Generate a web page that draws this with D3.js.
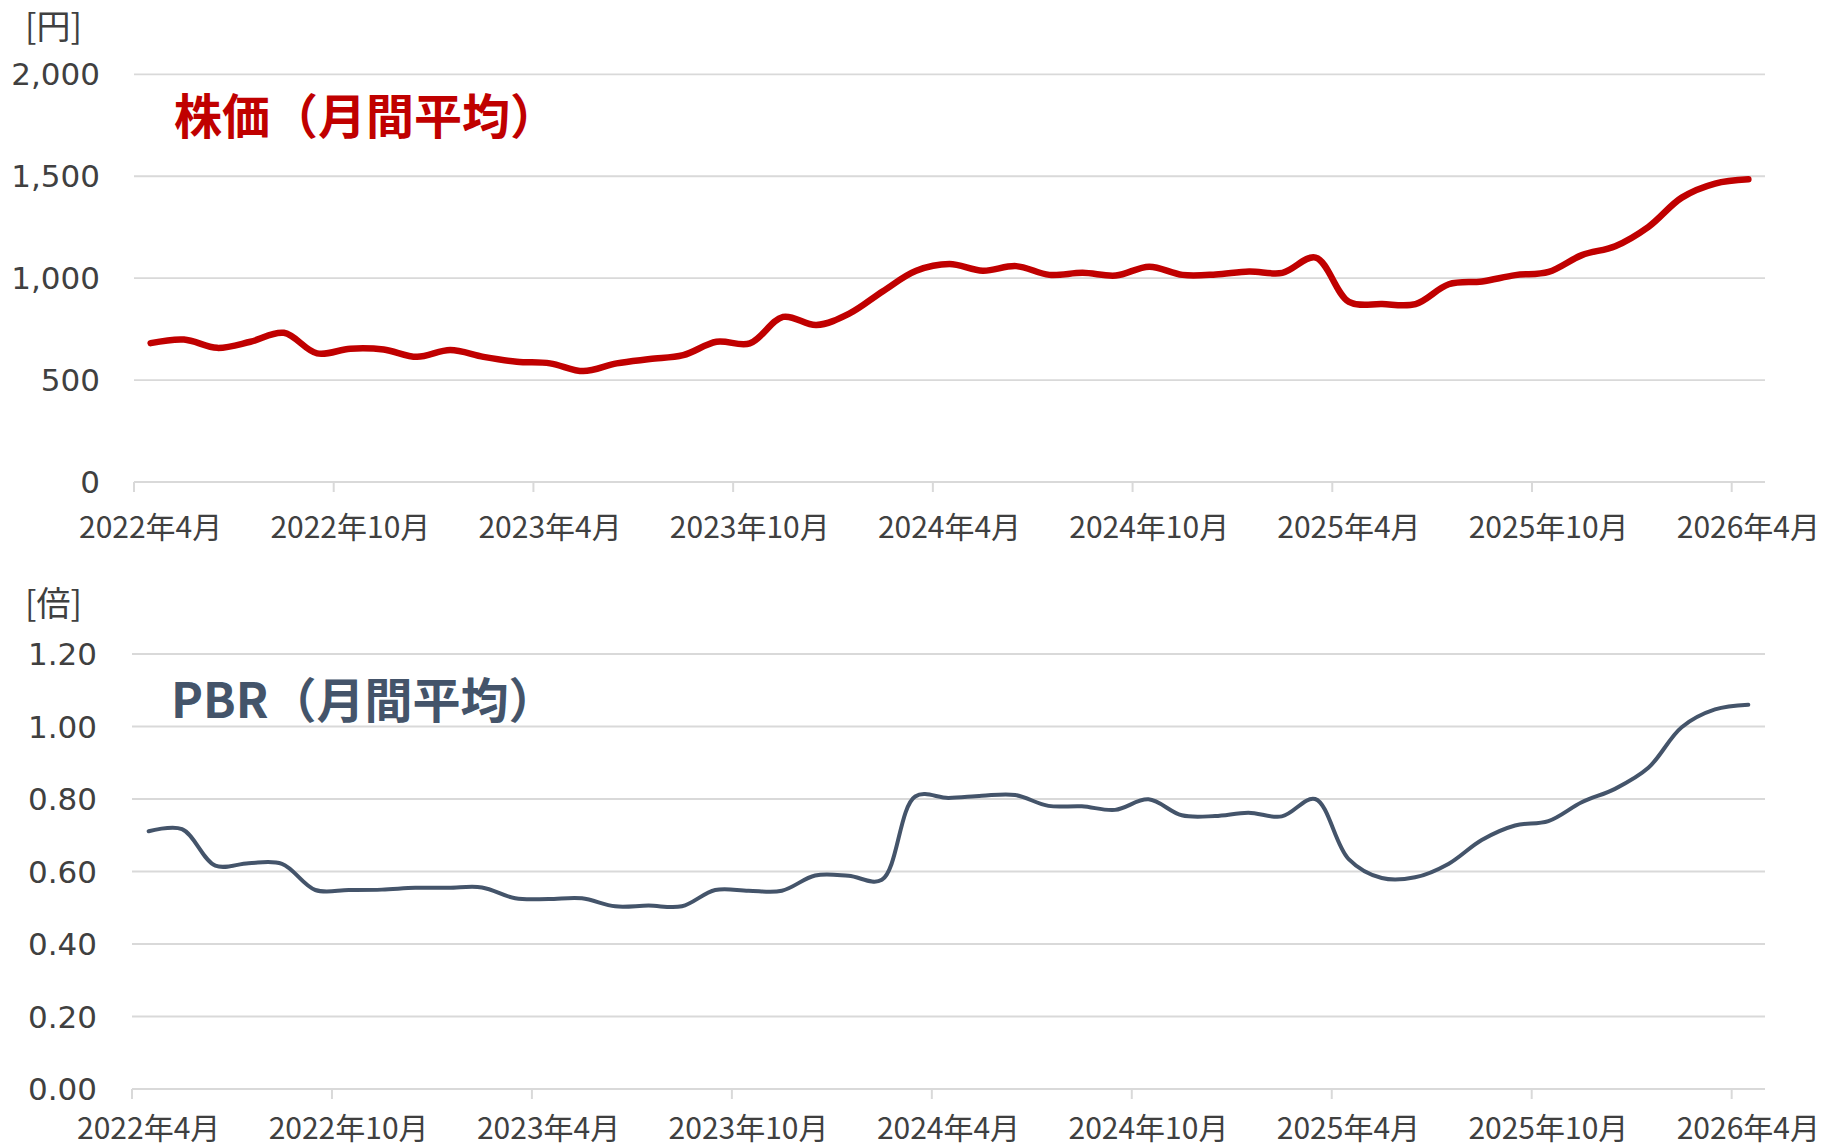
<!DOCTYPE html>
<html>
<head>
<meta charset="utf-8">
<script src="https://cdn.jsdelivr.net/npm/d3@7"></script>
<style>
  body { margin: 0; background: #fff; }
  svg { display: block; }
</style>
</head>
<body>
<div id="display"><svg width="1821" height="1148"></svg></div>
<script>
// months, Apr 2022 .. Apr 2026
var months = [
  "2022年4月","2022年5月","2022年6月","2022年7月","2022年8月","2022年9月","2022年10月","2022年11月","2022年12月",
  "2023年1月","2023年2月","2023年3月","2023年4月","2023年5月","2023年6月","2023年7月","2023年8月","2023年9月",
  "2023年10月","2023年11月","2023年12月","2024年1月","2024年2月","2024年3月","2024年4月","2024年5月","2024年6月",
  "2024年7月","2024年8月","2024年9月","2024年10月","2024年11月","2024年12月","2025年1月","2025年2月","2025年3月",
  "2025年4月","2025年5月","2025年6月","2025年7月","2025年8月","2025年9月","2025年10月","2025年11月","2025年12月",
  "2026年1月","2026年2月","2026年3月","2026年4月"
];
var tickMonths = ["2022年4月","2022年10月","2023年4月","2023年10月","2024年4月","2024年10月","2025年4月","2025年10月","2026年4月"];

// 株価（月間平均）[円]
var price = [681,699,658,688,732,631,654,650,614,647,614,590,582,544,582,603,622,688,680,810,
  770,827,936,1036,1069,1036,1059,1016,1026,1013,1056,1016,1018,1033,1026,1101,884,873,873,970,
  984,1015,1031,1113,1157,1252,1395,1464,1485];
var priceTicks = [0,500,1000,1500,2000];

// PBR（月間平均）[倍]
var pbr = [0.711,0.717,0.616,0.623,0.621,0.549,0.549,0.550,0.555,0.555,0.556,0.526,0.524,0.526,0.504,0.506,
  0.504,0.549,0.547,0.547,0.589,0.588,0.577,0.807,0.803,0.809,0.811,0.781,0.780,0.770,0.799,0.755,
  0.753,0.762,0.752,0.800,0.635,0.582,0.584,0.621,0.687,0.727,0.739,0.791,0.828,0.886,0.998,1.047,1.060];
var pbrTicks = [0,0.2,0.4,0.6,0.8,1.0,1.2];

var svg = d3.select("#display svg");
svg.append("rect").attr("width",1821).attr("height",1148).attr("fill","#fff");

var GRID = "#d9d9d9", TXT = "#404040";
var numFont = "'DejaVu Sans', Verdana, sans-serif";
var jpFont = "'Noto Sans CJK JP', 'Noto Sans', sans-serif";

function panel(o) {
    var x = d3.scaleBand().domain(months).range([o.left, o.right]).padding(0);
    var y = d3.scaleLinear().domain(o.domain).range([o.bottom, o.top]);
    var g = svg.append("g");

    // gridlines
    g.selectAll("line.grid").data(o.ticks.slice(1)).enter().append("line")
	.attr("x1", o.left).attr("x2", o.right)
	.attr("y1", function(d){ return y(d); }).attr("y2", function(d){ return y(d); })
	.attr("stroke", GRID).attr("stroke-width", 1.8);

    // y tick labels
    g.selectAll("text.ylab").data(o.ticks).enter().append("text")
	.attr("x", o.labelRight).attr("y", function(d){ return y(d); })
	.attr("dy", "0.36em").attr("text-anchor", "end")
	.attr("font-family", numFont).attr("font-size", "31px").attr("fill", TXT)
	.text(o.fmt);

    // x axis: labels centered on bands, ticks at band left edges
    var ax = d3.axisBottom(x).tickValues(tickMonths).tickSize(0).tickPadding(0);
    var axg = g.append("g").attr("transform", "translate(0," + o.bottom + ")").call(ax);
    axg.select(".domain").remove();
    axg.selectAll("text").attr("y", o.xlabY - o.bottom).attr("dy", "0.36em")
	.attr("font-family", jpFont).attr("font-size", "30px").attr("fill", TXT);
    g.selectAll("line.xtick").data(tickMonths).enter().append("line")
	.attr("x1", function(d){ return x(d); }).attr("x2", function(d){ return x(d); })
	.attr("y1", o.bottom).attr("y2", o.bottom + 10)
	.attr("stroke", GRID).attr("stroke-width", 2);
    g.append("line").attr("x1", o.left).attr("x2", o.right)
	.attr("y1", o.bottom).attr("y2", o.bottom)
	.attr("stroke", GRID).attr("stroke-width", 2.2);

    // unit
    g.append("text").text(o.unit).attr("x", 25).attr("y", o.unitY).attr("dy", "0.36em")
	.attr("font-family", jpFont).attr("font-size", "34px").attr("fill", TXT);

    // series line
    var line = d3.line()
	.x(function(d, i){ return x(months[i]) + x.bandwidth()/2; })
	.y(function(d){ return y(d); })
	.curve(d3.curveCatmullRom);
    g.append("path").datum(o.values).attr("d", line)
	.attr("fill", "none").attr("stroke", o.color).attr("stroke-width", o.width)
	.attr("stroke-linecap", "round").attr("stroke-linejoin", "round");

    // title
    g.append("text").text(o.title).attr("x", o.titleX).attr("y", o.titleY)
	.attr("dominant-baseline", "central")
	.attr("font-family", jpFont).attr("font-weight", "bold").attr("font-size", "48px")
	.attr("fill", o.color);
}

panel({
    left: 134, right: 1765, top: 74.3, bottom: 482, domain: [0, 2000],
    ticks: priceTicks, fmt: d3.format(","), labelRight: 100, xlabY: 527,
    unit: "[円]", unitY: 27, values: price, color: "#C00000", width: 6.5,
    title: "株価（月間平均）", titleX: 174, titleY: 113
});

panel({
    left: 132, right: 1765, top: 654, bottom: 1089, domain: [0, 1.2],
    ticks: pbrTicks, fmt: d3.format(".2f"), labelRight: 97, xlabY: 1128,
    unit: "[倍]", unitY: 604, values: pbr, color: "#44546A", width: 4,
    title: "PBR（月間平均）", titleX: 171, titleY: 697
});
</script>
</body>
</html>
